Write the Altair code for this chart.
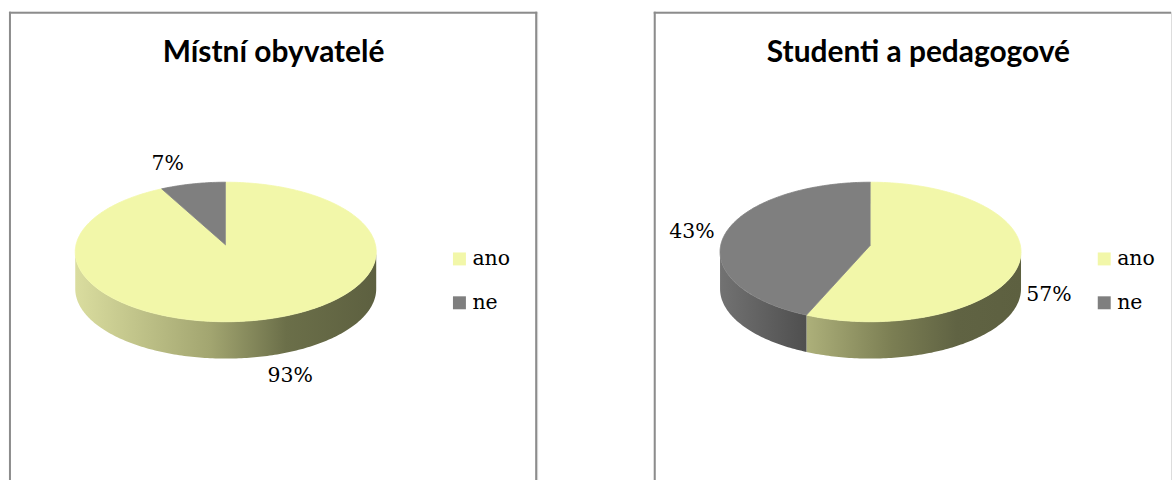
import altair as alt
import numpy as np
import pandas as pd

# ---- data ----
categories = ["ano", "ne"]
mistni_values = [93, 7]
studenti_values = [57, 43]
panel_titles = ["Místní obyvatelé", "Studenti a pedagogové"]

top_colors = ["#F2F7A9", "#7F7F7F"]

# ---- layout / style constants ----
PANEL_H = 471
W_LEFT, W_RIGHT = 530, 519
SPACING = 117
CX, CY, RX, RY, DEPTH, TIP = 217.5, 241.0, 151.0, 70.0, 37.0, 7.0
FRAME = "#8C8C8C"
SERIF = "DejaVu Serif"
SERIF_SIZE = 20.5

side_gradients = {
    ("left", "ano"): [(0, "#DADD9F"), (0.45, "#A2A570"), (0.7, "#6B6F49"), (1, "#5D6040")],
    ("right", "ano"): [(0, "#ADB07A"), (0.4, "#7B7E53"), (0.7, "#606343"), (1, "#5D6040")],
    ("right", "ne"): [(0, "#727272"), (1, "#4F4F4F")],
}


def ell(theta, dy=0.0):
    t = np.radians(theta)
    return CX + RX * np.sin(t), CY - RY * np.cos(t) + dy


def build_tables(values):
    total = float(sum(values))
    top, side, labels = [], [], []
    start = 0.0
    for cat, v in zip(categories, values):
        end = start + 360.0 * v / total
        n = max(int((end - start) / 1.0), 2)
        pts = [(CX, CY - TIP)] + [ell(a) for a in np.linspace(start, end, n + 1)]
        for i, (x, y) in enumerate(pts):
            top.append({"cat": cat, "order": i, "x": x, "y": y})
        s, e = max(start, 90.0), min(end, 270.0)
        if e > s:
            ang = np.linspace(s, e, max(int(e - s), 2) + 1)
            poly = [ell(a) for a in ang] + [ell(a, DEPTH) for a in ang[::-1]]
            for i, (x, y) in enumerate(poly):
                side.append({"cat": cat, "order": i, "x": x, "y": y})
        mid = np.radians((start + end) / 2)
        sn, cs = np.sin(mid), np.cos(mid)
        sign = 1 if sn >= 0 else -1
        ex = CX + RX * sn
        ey = CY - RY * cs + (DEPTH * (-cs) ** 0.3 if cs < 0 else 0)
        labels.append({"cat": cat, "text": f"{v}%", "x": ex + sign * 9,
                       "y": ey - cs * 20, "side": "left" if sign > 0 else "right"})
        start = end
    return pd.DataFrame(top), pd.DataFrame(side), pd.DataFrame(labels)


def panel(values, title, width, which, right_edge):
    top, side, labels = build_tables(values)
    xs = alt.Scale(domain=[0, width], nice=False, zero=False)
    ys = alt.Scale(domain=[0, PANEL_H], nice=False, zero=False, reverse=True)
    X = lambda: alt.X("x:Q", scale=xs, axis=None)
    Y = lambda: alt.Y("y:Q", scale=ys, axis=None)
    cscale = alt.Scale(domain=categories, range=top_colors)

    one = pd.DataFrame({"a": [0]})
    layers = []
    # frame
    layers.append(alt.Chart(one).mark_rule(color=FRAME, strokeWidth=2).encode(
        x=alt.value(1), y=alt.value(0), y2=alt.value(PANEL_H)))
    layers.append(alt.Chart(one).mark_rule(color=FRAME, strokeWidth=2).encode(
        x=alt.value(0), x2=alt.value(width), y=alt.value(1)))
    if right_edge:
        layers.append(alt.Chart(one).mark_rule(color=FRAME, strokeWidth=2).encode(
            x=alt.value(width - 1), y=alt.value(0), y2=alt.value(PANEL_H)))

    # sides with gradients
    for cat in categories:
        key = (which, cat)
        if key not in side_gradients or side.empty:
            continue
        sub = side[side["cat"] == cat]
        if sub.empty:
            continue
        grad = alt.LinearGradient(
            gradient="linear",
            stops=[alt.GradientStop(color=c, offset=o) for o, c in side_gradients[key]],
            x1=0, x2=1, y1=0, y2=0)
        layers.append(alt.Chart(sub).mark_line(filled=True, fill=grad, strokeWidth=0).encode(
            x=X(), y=Y(), order="order:Q", detail="cat:N"))

    # top surface
    layers.append(alt.Chart(top).mark_line(filled=True, strokeWidth=0.8).encode(
        x=X(), y=Y(), order="order:Q", detail="cat:N",
        color=alt.Color("cat:N", scale=cscale, legend=None),
        stroke=alt.Stroke("cat:N", scale=cscale, legend=None)))

    # percentage labels
    for al in ["left", "right"]:
        sub = labels[labels["side"] == al]
        if sub.empty:
            continue
        layers.append(alt.Chart(sub).mark_text(
            align=al, baseline="middle", font=SERIF, fontSize=SERIF_SIZE,
            color="#000000").encode(x=X(), y=Y(), text="text:N"))

    # legend
    leg = pd.DataFrame({"cat": categories, "idx": list(range(len(categories)))})
    layers.append(alt.Chart(leg).transform_calculate(
        ly="248 + datum.idx * 44", lx="452").mark_square(size=169, opacity=1).encode(
        x=alt.X("lx:Q", scale=xs, axis=None), y=alt.Y("ly:Q", scale=ys, axis=None),
        color=alt.Color("cat:N", scale=cscale, legend=None)))
    layers.append(alt.Chart(leg).transform_calculate(
        ly="248 + datum.idx * 44", lx="465").mark_text(
        align="left", baseline="middle", font=SERIF, fontSize=SERIF_SIZE,
        color="#000000").encode(
        x=alt.X("lx:Q", scale=xs, axis=None), y=alt.Y("ly:Q", scale=ys, axis=None),
        text="cat:N"))

    # title
    layers.append(alt.Chart(pd.DataFrame({"t": [title]})).mark_text(
        font="Lato", fontWeight="bold", fontSize=30, align="center",
        baseline="middle", color="#000000").encode(
        x=alt.value(265.5), y=alt.value(41), text="t:N"))

    return alt.layer(*layers).properties(width=width, height=PANEL_H)


left = panel(mistni_values, panel_titles[0], W_LEFT, "left", True)
right = panel(studenti_values, panel_titles[1], W_RIGHT, "right", False)

chart = alt.hconcat(left, right, spacing=SPACING, bounds="flush").resolve_scale(
    x="independent", y="independent", color="independent", stroke="independent"
).properties(
    padding={"left": 7, "top": 9, "right": 0, "bottom": 0}
).configure_view(stroke=None).configure(background="#FFFFFF")

chart.save("out.html", embed_options={"renderer": "svg", "actions": False})
